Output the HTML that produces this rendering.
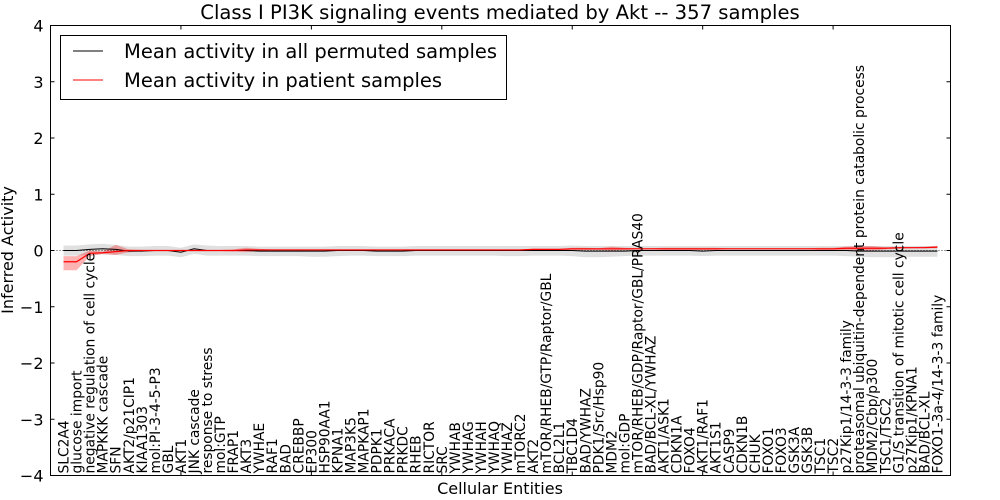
<!DOCTYPE html>
<html><head><meta charset="utf-8"><style>
body{margin:0;background:#fff;}
svg{display:block;font-family:"DejaVu Sans","Liberation Sans",sans-serif;}
</style></head><body>
<svg id="chart" width="1000" height="500" xmlns="http://www.w3.org/2000/svg">
<rect width="1000" height="500" fill="#fff"/>
<g id="bands"></g>
<g id="lines"></g>
<g id="axes"></g>
<g id="xlabels"></g>
<text x="500" y="19" text-anchor="middle" font-size="19.6">Class I PI3K signaling events mediated by Akt -- 357 samples</text>
<text x="500" y="494" text-anchor="middle" font-size="16">Cellular Entities</text>
<text transform="translate(13,250) rotate(-90)" text-anchor="middle" font-size="16">Inferred Activity</text>
<g>
<rect x="60.5" y="35.5" width="446" height="64" fill="#fff" stroke="#000"/>
<line x1="73" y1="51" x2="103" y2="51" stroke="#000"/>
<text x="124" y="58" font-size="19.5">Mean activity in all permuted samples</text>
<line x1="73" y1="80" x2="103" y2="80" stroke="#f00"/>
<text x="124" y="87" font-size="19.5">Mean activity in patient samples</text>
</g>
</svg>
<script>
const categories=["SLC2A4","glucose import","negative regulation of cell cycle","MAPKKK cascade","SFN","AKT2/p21CIP1","KIAA1303","mol:PI-3-4-5-P3","GBL","AKT1","JNK cascade","response to stress","mol:GTP","FRAP1","AKT3","YWHAE","RAF1","BAD","CREBBP","EP300","HSP90AA1","KPNA1","MAP3K5","MAPKAP1","PDPK1","PRKACA","PRKDC","RHEB","RICTOR","SRC","YWHAB","YWHAG","YWHAH","YWHAQ","YWHAZ","mTORC2","AKT2","mTOR/RHEB/GTP/Raptor/GBL","BCL2L1","TBC1D4","BAD/YWHAZ","PDK1/Src/Hsp90","MDM2","mol:GDP","mTOR/RHEB/GDP/Raptor/GBL/PRAS40","BAD/BCL-XL/YWHAZ","AKT1/ASK1","CDKN1A","FOXO4","AKT1/RAF1","AKT1S1","CASP9","CDKN1B","CHUK","FOXO1","FOXO3","GSK3A","GSK3B","TSC1","TSC2","p27Kip1/14-3-3 family","proteasomal ubiquitin-dependent protein catabolic process","MDM2/Cbp/p300","TSC1/TSC2","G1/S transition of mitotic cell cycle","p27Kip1/KPNA1","BAD/BCL-XL","FOXO1-3a-4/14-3-3 family"];
const permMean=[0,0,0.02,0.03,0.02,-0.01,-0.01,0,0,-0.03,0.03,0,0,0,0,-0.01,-0.01,-0.01,-0.01,-0.01,-0.01,0,0,0,-0.01,-0.01,-0.01,0,0,0,0,0,0,0,0,0,0,0,0,0,-0.01,-0.01,-0.01,-0.01,0,0,0,0,0,-0.01,0,0,0,0,0,0,0,0,0,0,0,-0.01,-0.01,-0.01,-0.01,-0.01,-0.01,-0.01];
const permHi=[0.09,0.09,0.11,0.12,0.1,0.07,0.07,0.08,0.08,0.05,0.11,0.09,0.08,0.08,0.08,0.07,0.07,0.07,0.07,0.07,0.07,0.08,0.08,0.08,0.07,0.07,0.07,0.08,0.08,0.08,0.08,0.08,0.08,0.08,0.08,0.08,0.08,0.08,0.08,0.09,0.08,0.08,0.08,0.08,0.08,0.08,0.08,0.08,0.08,0.08,0.08,0.08,0.08,0.08,0.08,0.08,0.08,0.08,0.08,0.08,0.08,0.08,0.08,0.08,0.08,0.08,0.08,0.08];
const permLo=[-0.09,-0.09,-0.08,-0.07,-0.08,-0.1,-0.1,-0.09,-0.09,-0.12,-0.06,-0.09,-0.09,-0.09,-0.09,-0.1,-0.1,-0.1,-0.1,-0.11,-0.11,-0.1,-0.09,-0.09,-0.1,-0.1,-0.1,-0.09,-0.09,-0.09,-0.09,-0.09,-0.09,-0.09,-0.1,-0.1,-0.09,-0.09,-0.09,-0.1,-0.12,-0.12,-0.11,-0.1,-0.09,-0.09,-0.09,-0.09,-0.09,-0.1,-0.09,-0.09,-0.09,-0.09,-0.09,-0.09,-0.09,-0.09,-0.09,-0.09,-0.1,-0.11,-0.12,-0.12,-0.12,-0.11,-0.11,-0.11];
const patMean=[-0.2,-0.2,-0.05,-0.04,-0.02,0,0,0,0,0,0,0,0,0,0.01,0.01,0.01,0.01,0.01,0.01,0.01,0.01,0.01,0.01,0.01,0.01,0.01,0.01,0.01,0.01,0.01,0.01,0.01,0.01,0.01,0.01,0.02,0.02,0.02,0.03,0.03,0.03,0.03,0.03,0.03,0.03,0.03,0.03,0.03,0.03,0.03,0.03,0.03,0.03,0.03,0.03,0.03,0.03,0.03,0.03,0.04,0.04,0.04,0.04,0.05,0.05,0.05,0.06];
const patHi=[-0.1,-0.1,0,-0.02,0.1,0.02,0.01,0.01,0.01,0.01,0.01,0.01,0.01,0.02,0.05,0.03,0.02,0.02,0.02,0.02,0.02,0.02,0.02,0.02,0.02,0.02,0.02,0.02,0.02,0.02,0.02,0.02,0.02,0.02,0.02,0.02,0.03,0.03,0.03,0.05,0.05,0.04,0.07,0.05,0.04,0.04,0.05,0.05,0.05,0.05,0.05,0.04,0.04,0.04,0.04,0.04,0.04,0.04,0.05,0.05,0.07,0.08,0.08,0.06,0.06,0.06,0.07,0.08];
const patLo=[-0.35,-0.35,-0.1,-0.06,-0.08,-0.03,-0.01,-0.01,-0.01,-0.01,-0.01,-0.01,-0.01,-0.02,-0.03,-0.01,0,0,0,0,0,0,0,0,0,0,0,0,0,0,0,0,0,0,0,0,0.01,0.01,0.01,0.01,0.01,0.01,0,0.01,0.02,0.02,0.01,0.01,0.01,0.01,0.01,0.02,0.02,0.02,0.02,0.02,0.02,0.02,0.01,0.01,0.01,0,0,0.02,0.03,0.04,0.04,0.04];
const yTicks=[-4,-3,-2,-1,0,1,2,3,4];

const L=50.5,R=950.5,T=25.5,B=475.5;
const x=i=>L+(i+1)*(R-L)/69;
const y=v=>T+(4-v)*(B-T)/8;
const NS="http://www.w3.org/2000/svg";
function mk(tag,attrs,parent){const e=document.createElementNS(NS,tag);for(const k in attrs)e.setAttribute(k,attrs[k]);parent.appendChild(e);return e;}
const bands=document.getElementById('bands'),lines=document.getElementById('lines'),axes=document.getElementById('axes'),xl=document.getElementById('xlabels');
function bandPath(hi,lo){let d='';hi.forEach((v,i)=>d+=(i?'L':'M')+x(i)+','+y(v));for(let i=lo.length-1;i>=0;i--)d+='L'+x(i)+','+y(lo[i]);return d+'Z';}
function linePath(a){return a.map((v,i)=>(i?'L':'M')+x(i)+','+y(v)).join('');}
const pb=mk('path',{d:bandPath(permHi,permLo),fill:'#000','fill-opacity':0.12,stroke:'none'},bands);


const rb=mk('path',{d:bandPath(patHi,patLo),fill:'#f00','fill-opacity':0.3,stroke:'none'},bands);


const zl=mk('line',{x1:L,x2:R,y1:y(0),y2:y(0),stroke:'#000','stroke-dasharray':'1,2','stroke-width':0.8},lines);


const pl=mk('path',{d:linePath(permMean),fill:'none',stroke:'#000','stroke-width':1},lines);


const rl=mk('path',{d:linePath(patMean),fill:'none',stroke:'#f00','stroke-width':1.2},lines);


const fr=mk('rect',{x:L,y:T,width:R-L,height:B-T,fill:'none',stroke:'#000'},axes);


yTicks.forEach(v=>{
  mk('line',{x1:L,x2:L+4,y1:y(v),y2:y(v),stroke:'#000'},axes);
  mk('line',{x1:R,x2:R-4,y1:y(v),y2:y(v),stroke:'#000'},axes);
  const t=mk('text',{x:L-7,y:y(v)+6,'text-anchor':'end','font-size':16},axes);
  t.textContent=String(v).replace('-','\u2212');
  
  
});
for(let k=10;k<=60;k+=10){const xx=x(k-1);mk('line',{x1:xx,x2:xx,y1:T,y2:T+4,stroke:'#000'},axes);mk('line',{x1:xx,x2:xx,y1:B,y2:B-4,stroke:'#000'},axes);}
categories.forEach((c,i)=>{
  const t=mk('text',{transform:`translate(${x(i)+5},${B-2}) rotate(-90)`,'font-size':13.8},xl);
  t.textContent=c;
  
  
});
</script>
</body></html>
